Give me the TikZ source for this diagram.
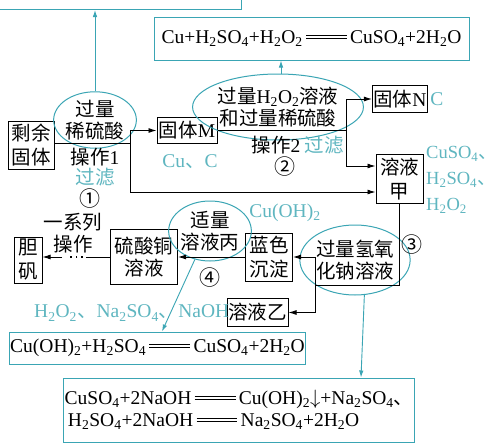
\documentclass[tikz,border=0pt]{standalone}
\usepackage{fontspec}
\setmainfont{Liberation Serif}
\newfontfamily\cjk{Noto Sans CJK SC}
\usetikzlibrary{shapes.geometric,arrows.meta}
\definecolor{tl}{RGB}{58,165,180}
\definecolor{tltext}{RGB}{95,182,192}
\newcommand\sub[1]{\textsubscript{#1}}
\newcommand\C[1]{{\cjk #1}}
\newcommand\dbleq{\,\rule[0.22em]{2.1em}{0.05em}\llap{\rule[0.40em]{2.1em}{0.05em}}\,}
\tikzset{
  base/.style={font=\fontsize{19.5}{22}\selectfont, inner sep=1pt},
  box/.style={base, draw, line width=1pt, align=center},
  oval/.style={base, ellipse, draw=tl, line width=1pt, align=center, inner sep=0pt},
  eqbox/.style={base, draw=tl, line width=1pt},
  lbl/.style={base},
  num/.style={font=\fontsize{21}{21}\selectfont, inner sep=0pt},
  tlbl/.style={base, text=tltext},
  arr/.style={-{Latex[length=8pt,width=5pt]}, line width=0.9pt},
  ln/.style={line width=0.9pt},
  dots/.style={line width=1.6pt, dash pattern=on 0pt off 3pt on 1.6pt off 4pt on 1.6pt off 4pt on 1.6pt off 10pt},
  tarr/.style={-{Latex[length=7pt,width=4.5pt]}, line width=0.9pt, draw=tl},
}
\begin{document}
\begin{tikzpicture}[x=1pt,y=-1pt]
\clip (0,0) rectangle (491,447);
\fill[white] (0,0) rectangle (491,447);

% equation boxes
\node[eqbox, minimum width=250, minimum height=50, anchor=south east] (top) at (242,10) {};
\node[eqbox, minimum width=315, minimum height=43] (eqa) at (311.5,38.5)
  {Cu+H\sub2SO\sub4+H\sub2O\sub2\dbleq CuSO\sub4+2H\sub2O};
\node[eqbox, minimum width=289, minimum height=32] (eqb) at (157.5,348)
  {Cu(OH)\sub2+H\sub2SO\sub4\dbleq CuSO\sub4+2H\sub2O};
\node[eqbox, minimum width=334, minimum height=64, align=left] (eqc) at (239,410)
  {CuSO\sub4+2NaOH\dbleq Cu(OH)\sub2$\downarrow$+Na\sub2SO\sub4\C{、}\\
   \,H\sub2SO\sub4+2NaOH\dbleq Na\sub2SO\sub4+2H\sub2O};

% boxes
\node[box, minimum width=46, minimum height=48] (rest) at (31.5,145) {\C{剩余}\\[2pt]\C{固体}};
\node[box, minimum width=60, minimum height=26] (M) at (187,130.5) {\C{固体}M};
\node[box, minimum width=54, minimum height=27] (N) at (400,99) {\C{固体}N};
\node[box, minimum width=47, minimum height=49] (jia) at (399.5,179) {\C{溶液}\\[2pt]\C{甲}};
\node[box, minimum width=47, minimum height=48] (lan) at (269,257) {\C{蓝色}\\[2pt]\C{沉淀}};
\node[box, minimum width=61, minimum height=28] (yi) at (257.5,312.5) {\C{溶液乙}};
\node[box, minimum width=67, minimum height=55] (cu) at (144,257) {\C{硫酸铜}\\\C{溶液}};
\node[box, minimum width=28, minimum height=46] (dan) at (28,260) {\C{胆}\\[2pt]\C{矾}};

% ovals
\node[oval, minimum width=80, minimum height=54] (E1) at (95,120) {\C{过量}\\\C{稀硫酸}};
\node[oval, minimum width=146, minimum height=66] (E2) at (278,107) {\C{过量}H\sub2O\sub2\C{溶液}\\\C{和过量稀硫酸}};
\node[oval, minimum width=95, minimum height=70] (E3) at (355,260) {\C{过量氢氧}\\\C{化钠溶液}};
\node[oval, minimum width=66, minimum height=60] (E4) at (210,231) {\C{适量}\\\C{溶液丙}};

% labels
\node[lbl] (op1) at (95,157) {\C{操作}1};
\node[tlbl] (f1) at (95,177) {\C{过滤}};
\node[num] (n1) at (90,199) {\C{①}};
\node[tlbl] (mc) at (190,162) {Cu\C{、}C};
\node[lbl] (op2) at (276,145) {\C{操作}2};
\node[tlbl] (f2) at (324,145) {\C{过滤}};
\node[num] (n2) at (285,167) {\C{②}};
\node[tlbl] (nc) at (437,99) {C};
\node[tlbl, anchor=west, font=\fontsize{18.5}{22}\selectfont] (j1l) at (425,154) {CuSO\sub4\C{、}};
\node[tlbl, anchor=west, font=\fontsize{18.5}{22}\selectfont] (j2l) at (425,180) {H\sub2SO\sub4\C{、}};
\node[tlbl, anchor=west, font=\fontsize{18.5}{22}\selectfont] (j3l) at (425,206) {H\sub2O\sub2};
\node[tlbl] (cuoh) at (285,213) {Cu(OH)\sub2};
\node[num] (n3) at (412,245) {\C{③}};
\node[lbl, align=center] (ser) at (73,233) {\C{一系列}\\\C{操作}};
\node[num] (n4) at (210,278) {\C{④}};
\node[tlbl, anchor=west] (prod) at (33,313) {H\sub2O\sub2\C{、}Na\sub2SO\sub4\C{、}NaOH};

% black connectors
\coordinate (a1) at (130,143);
\draw[ln] (rest.east |- a1) -- (a1);
\draw[arr] (a1) |- (M.west);
\draw[arr] (a1) |- ([yshift=-13pt]jia.west);
\coordinate (a2) at (346,130.5);
\draw[ln] (M.east) -- (a2);
\draw[arr] (a2) |- (N.west);
\draw[arr] (a2) |- ([yshift=13pt]jia.west);
\coordinate (a3) at (315,285);
\draw[ln] (jia.south) |- (a3);
\draw[arr] (a3) |- (lan.east);
\draw[arr] (a3) |- (yi.east);
\draw[arr] (lan.west) -- (lan.west -| cu.east);
\coordinate (d1) at (cu.west -| 86,0);
\coordinate (d2) at (cu.west -| 62,0);
\draw[ln] (cu.west) -- (d1);
\draw[dots] (d1) -- (d2);
\draw[arr] (d2) -- (d2 -| dan.east);

% teal connectors
\draw[tarr] (E1.north) -- (E1.north |- top.south);
\draw[tarr] ([xshift=3pt]E2.north) -- ([xshift=3pt]E2.north |- eqa.south);
\draw[tarr] (E4.242) -- ([xshift=4.5pt]eqb.north);
\draw[tarr] (E3.285) -- ([xshift=122pt]eqc.north);
\end{tikzpicture}
\end{document}
